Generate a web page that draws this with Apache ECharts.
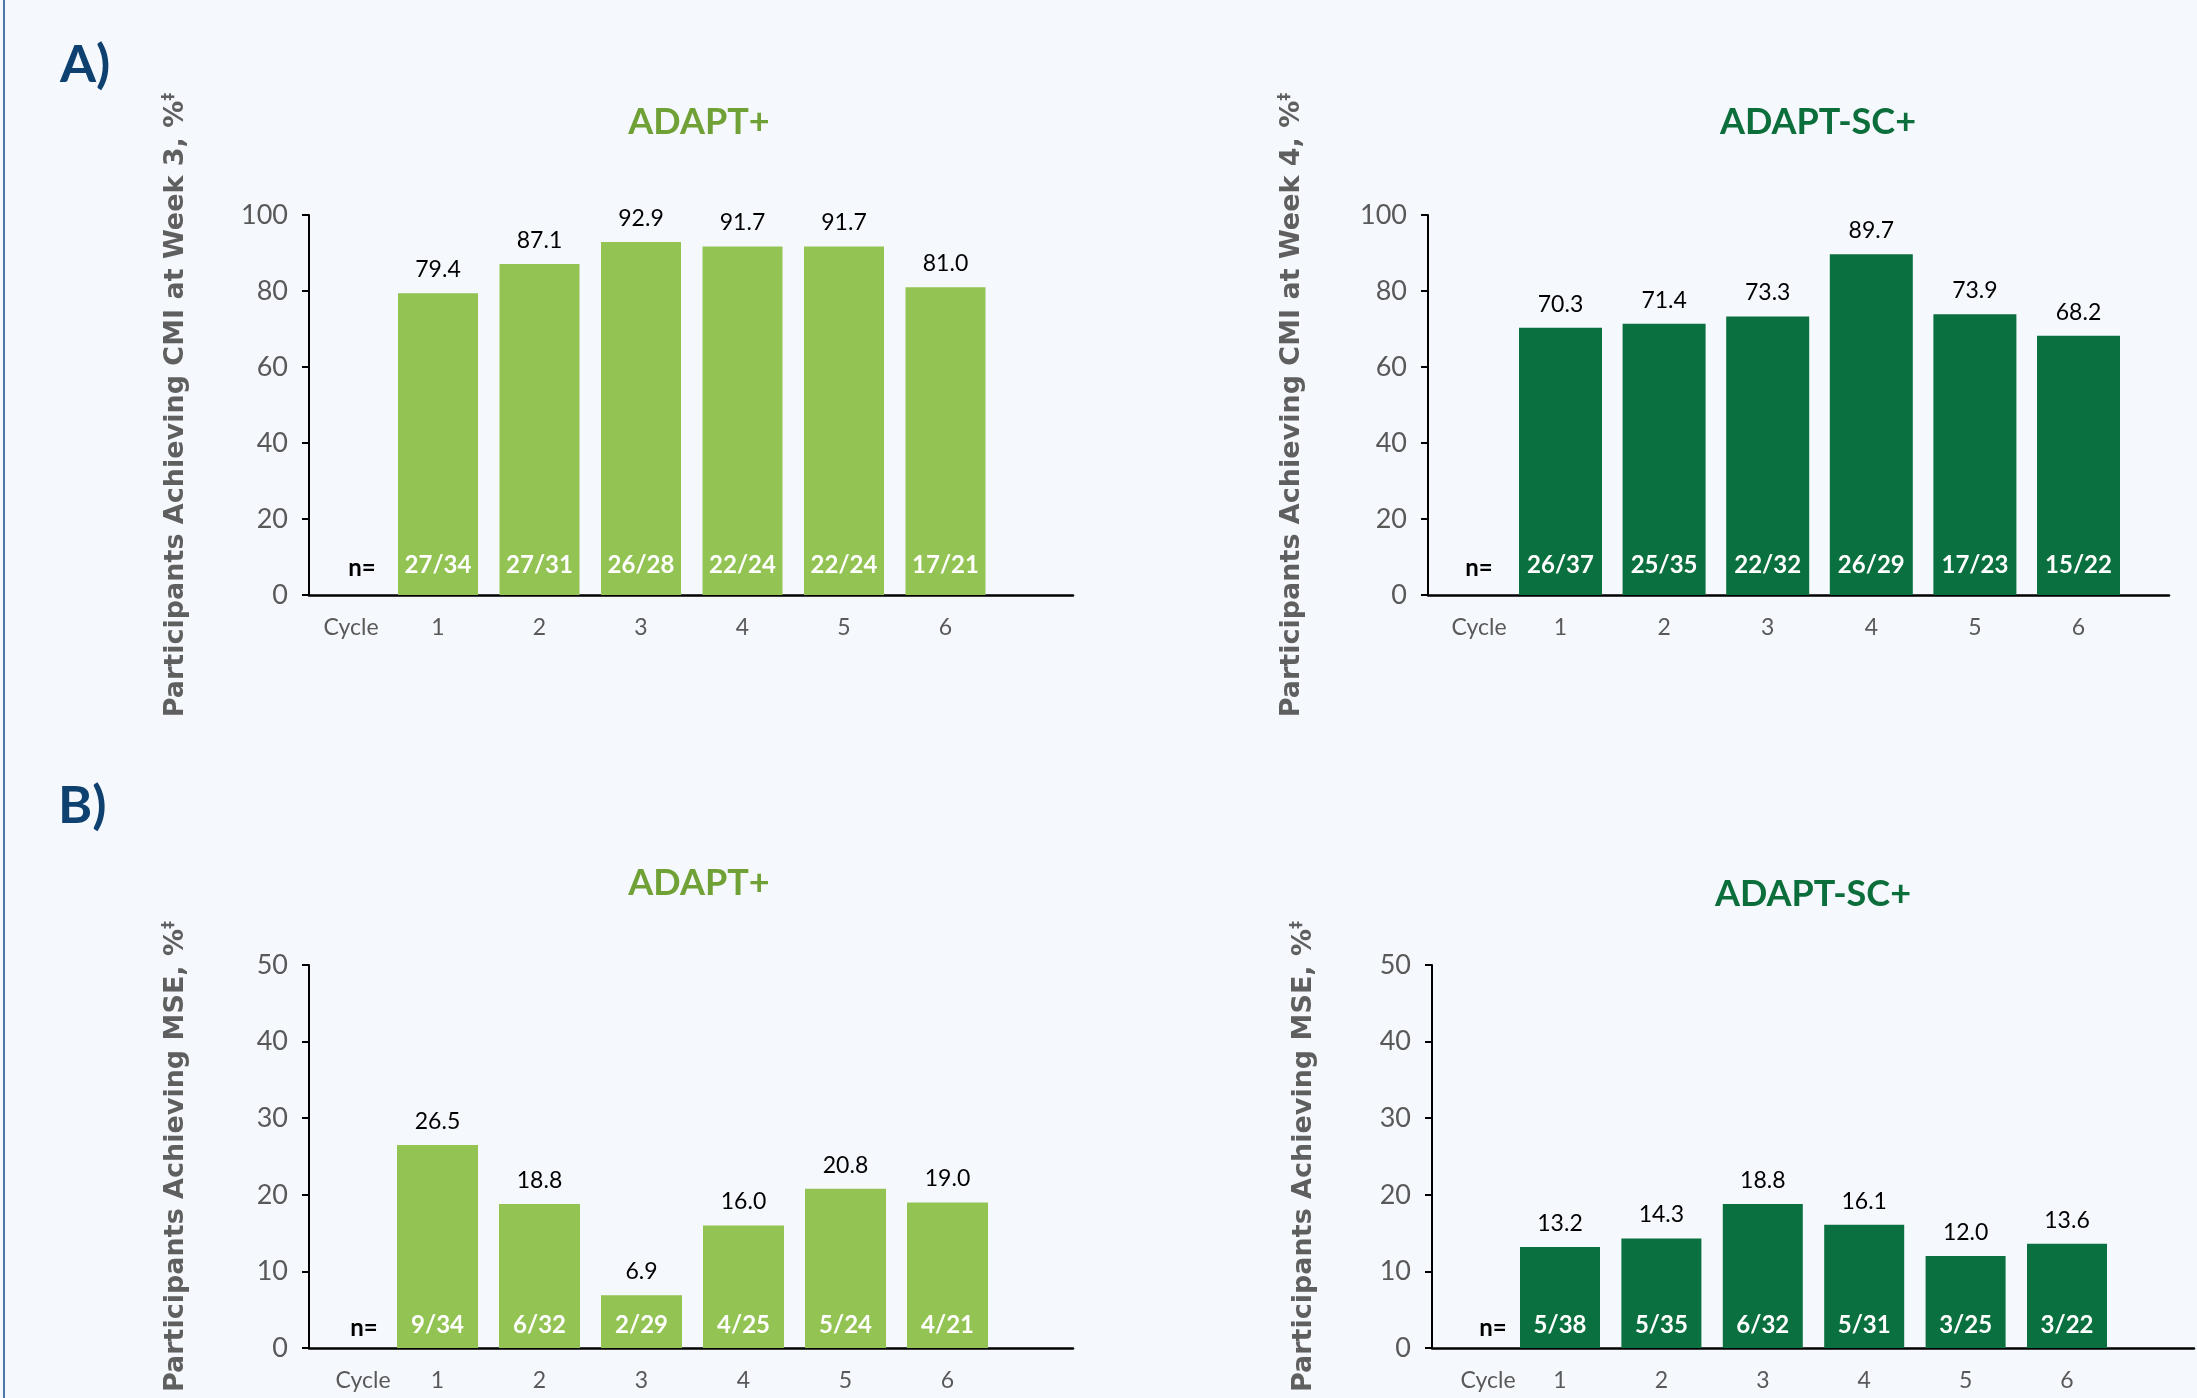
<!DOCTYPE html>
<html>
<head>
<meta charset="utf-8">
<script src="https://cdn.jsdelivr.net/npm/echarts@6/dist/echarts.min.js"></script>
<style>
  html, body { margin: 0; padding: 0; background: #f5f8fc; }
  #chart { position: relative; width: 2197px; height: 1398px; }
  #edge { position: absolute; left: 3px; top: 0; width: 2px; height: 1398px; background: #4f78a6; z-index: 2; }
</style>
</head>
<body>
<div id="edge"></div>
<div id="chart"></div>
<script>
const cycles = ['1', '2', '3', '4', '5', '6']

// A) CMI
const cmiAdapt = [79.4, 87.1, 92.9, 91.7, 91.7, 81.0]
const cmiAdaptN = ['27/34', '27/31', '26/28', '22/24', '22/24', '17/21']
const cmiSc = [70.3, 71.4, 73.3, 89.7, 73.9, 68.2]
const cmiScN = ['26/37', '25/35', '22/32', '26/29', '17/23', '15/22']

// B) MSE
const mseAdapt = [26.5, 18.8, 6.9, 16.0, 20.8, 19.0]
const mseAdaptN = ['9/34', '6/32', '2/29', '4/25', '5/24', '4/21']
const mseSc = [13.2, 14.3, 18.8, 16.1, 12.0, 13.6]
const mseScN = ['5/38', '5/35', '6/32', '5/31', '3/25', '3/22']

const cmiAxis = { max: 100, interval: 20 }
const mseAxis = { max: 50, interval: 10 }

const LIGHT = '#92c353'
const DARK = '#0b703f'
const GREY = '#595959'

// layout in px: axis origin, first bar centre, category width, baseline length
const panels = [
  { title: 'ADAPT+', titleColor: '#70a136', color: LIGHT, values: cmiAdapt, n: cmiAdaptN, axis: cmiAxis,
    yName: 'Participants Achieving CMI at Week 3, %',
    left: 309, top: 215, bottom: 595, firstX: 438, catW: 101.5, lineLen: 764, barW: 80,
    nDist: 18, nX: 357, nY: 563, cycleX: 351, nameGap: 118, tx: 694, ty: 121 },
  { title: 'ADAPT-SC+', titleColor: '#0b6e3b', color: DARK, values: cmiSc, n: cmiScN, axis: cmiAxis,
    yName: 'Participants Achieving CMI at Week 4, %',
    left: 1428, top: 215, bottom: 595, firstX: 1560.5, catW: 103.6, lineLen: 741, barW: 83,
    nDist: 18, nX: 1474, nY: 563, cycleX: 1479, nameGap: 121, tx: 1813, ty: 121 },
  { title: 'ADAPT+', titleColor: '#70a136', color: LIGHT, values: mseAdapt, n: mseAdaptN, axis: mseAxis,
    yName: 'Participants Achieving MSE, %',
    left: 309, top: 965, bottom: 1348, firstX: 437.5, catW: 102, lineLen: 764, barW: 81,
    nDist: 11, nX: 359, nY: 1323, cycleX: 363, nameGap: 118, tx: 694, ty: 882 },
  { title: 'ADAPT-SC+', titleColor: '#0b6e3b', color: DARK, values: mseSc, n: mseScN, axis: mseAxis,
    yName: 'Participants Achieving MSE, %',
    left: 1432, top: 965, bottom: 1348, firstX: 1560, catW: 101.4, lineLen: 762, barW: 80,
    nDist: 11, nX: 1488, nY: 1323, cycleX: 1488, nameGap: 113, tx: 1808, ty: 893 }
]

const chart = echarts.init(document.getElementById('chart'))

const grid = []
const xAxis = []
const yAxis = []
const series = []
const title = [
  { text: 'A)', left: 55, top: 34, textStyle: { fontFamily: 'Lato', fontWeight: 'bold', fontSize: 52, color: '#0e4170' } },
  { text: 'B)', left: 53, top: 775, textStyle: { fontFamily: 'Lato', fontWeight: 'bold', fontSize: 52, color: '#0e4170' } }
]

panels.forEach((p, i) => {
  const g = i * 2
  const h = p.bottom - p.top
  // grid holding the bars
  grid.push({ left: p.firstX - p.catW / 2, top: p.top, width: p.catW * cycles.length, height: h })
  // grid holding the visible axes
  grid.push({ left: p.left, top: p.top, width: p.lineLen, height: h })

  xAxis.push({
    type: 'category', gridIndex: g, data: cycles,
    axisLine: { show: false }, axisTick: { show: false },
    axisLabel: { color: GREY, fontSize: 23, fontFamily: 'Lato', margin: 21 }
  })
  xAxis.push({
    type: 'value', gridIndex: g + 1, min: 0, max: p.lineLen,
    axisLine: { show: true, lineStyle: { color: '#000', width: 2.5 } },
    axisTick: { show: false }, splitLine: { show: false },
    axisLabel: {
      customValues: [p.cycleX - p.left], formatter: () => 'Cycle',
      color: GREY, fontSize: 23, fontFamily: 'Lato', margin: 21
    }
  })

  yAxis.push({ type: 'value', gridIndex: g, min: 0, max: p.axis.max, show: false })
  yAxis.push({
    type: 'value', gridIndex: g + 1, min: 0, max: p.axis.max, interval: p.axis.interval,
    axisLine: { show: true, lineStyle: { color: '#000', width: 2 } },
    axisTick: { show: true, length: 7, lineStyle: { color: '#000', width: 2 } },
    splitLine: { show: false },
    axisLabel: { color: GREY, fontSize: 27, fontFamily: 'Lato', margin: 21 },
    name: '{a|' + p.yName + '}{s|‡}',
    nameLocation: 'middle', nameRotate: 90, nameGap: p.nameGap,
    nameTextStyle: {
      rich: {
        a: { fontFamily: 'DejaVu Sans', fontWeight: 'bold', fontSize: 27, color: '#5f5f5f' },
        s: { fontFamily: 'DejaVu Sans', fontWeight: 'bold', fontSize: 16, color: '#5f5f5f', verticalAlign: 'top', padding: [0, 0, 14, 0] }
      }
    }
  })

  title.push({
    text: p.title, left: p.tx, top: p.ty - 22, textAlign: 'center',
    textStyle: { fontFamily: 'Lato', fontWeight: 'bold', fontSize: 36, color: p.titleColor }
  })
  title.push({
    text: 'n=', left: p.nX, top: p.nY - 12, textAlign: 'center',
    textStyle: { fontFamily: 'Lato', fontWeight: 'bold', fontSize: 24, lineHeight: 24, color: '#000' }
  })

  series.push({
    type: 'bar', xAxisIndex: g, yAxisIndex: g,
    data: p.values,
    barWidth: p.barW,
    itemStyle: { color: p.color },
    label: {
      show: true, position: 'top', distance: 12,
      color: '#000', fontSize: 23, fontFamily: 'Lato',
      formatter: d => d.value.toFixed(1)
    }
  })
  series.push({
    type: 'bar', xAxisIndex: g, yAxisIndex: g,
    data: p.values,
    barWidth: p.barW, barGap: '-100%',
    itemStyle: { color: 'rgba(0,0,0,0)' },
    label: {
      show: true, position: 'insideBottom', distance: p.nDist,
      color: '#fff', fontSize: 24, fontWeight: 'bold', fontFamily: 'Lato',
      formatter: d => p.n[d.dataIndex]
    }
  })
})

chart.setOption({
  backgroundColor: '#f5f8fc',
  animation: false,
  title,
  grid,
  xAxis,
  yAxis,
  series
})

window.addEventListener('resize', () => chart.resize())
</script>
</body>
</html>
